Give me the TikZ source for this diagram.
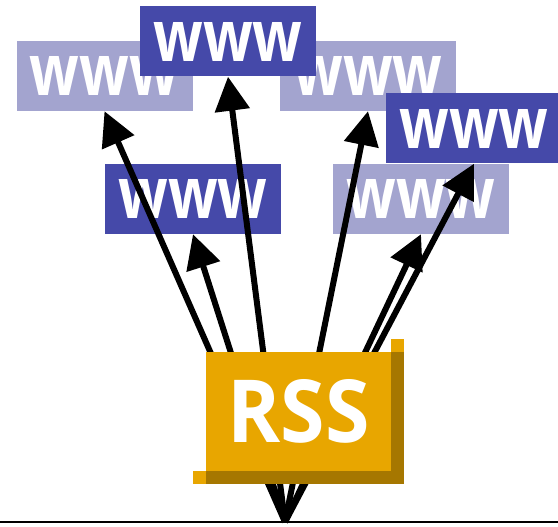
\documentclass[tikz,border=0pt]{standalone}
\usepackage{fontspec}
\setmainfont{Open Sans}
\usepackage{graphicx}
\usetikzlibrary{arrows.meta}
\definecolor{darkblue}{HTML}{4549A9}
\definecolor{lightblue}{HTML}{A3A4CF}
\definecolor{rssorange}{HTML}{E8A600}
\definecolor{rssshadow}{HTML}{A67700}
\tikzset{
  wbox/.style={minimum width=176pt, minimum height=70pt, inner sep=0pt, text=white, font=\bfseries},
  darkw/.style={wbox, fill=darkblue},
  lightw/.style={wbox, fill=lightblue},
  feed/.style={line width=6pt, -{Triangle[length=34pt,width=34pt]}},
  shadowbox/.style={fill=rssshadow, minimum width=198pt, minimum height=132pt, inner sep=0pt},
  rssbox/.style={fill=rssorange, minimum width=185pt, minimum height=119pt, inner sep=0pt, text=white, font=\bfseries},
  sq/.style={fill=rssorange, minimum width=13pt, minimum height=13pt, inner sep=0pt},
  baseline/.style={line width=2pt}
}
\newcommand{\www}{\resizebox{149pt}{39pt}{www}}
\begin{document}
\begin{tikzpicture}[x=1pt, y=-1pt]
\clip (0,0) rectangle (558,527);
% light boxes
\node[lightw] (lightL) at (104.5,76) {\www};
\node[lightw] (lightR) at (368,76) {\www};
\node[lightw] (lightRB) at (421,199) {\www};
% dark boxes
\node[darkw] (darkT) at (228,41.5) {\www};
\node[darkw] (darkM) at (193,199) {\www};
\node[darkw] (darkR) at (474,128.5) {\www};
% base line
\coordinate (origin) at (285,522);
\coordinate (lineL) at (0,522);
\coordinate (lineR) at (558,522);
\draw[baseline] (lineL) -- (lineR);
% arrows
\draw[feed] (origin) -- (lightL.south);
\draw[feed] (origin) -- (darkT.south);
\draw[feed] (origin) -- (darkM.south);
\draw[feed] (origin) -- (lightR.south);
\draw[feed] (origin) -- (darkR.south);
\draw[feed] (origin) -- (lightRB.south);
% RSS box
\node[shadowbox] (rssshadow) at (305,418) {};
\node[rssbox, anchor=north west] (rss) at (rssshadow.north west) {\resizebox{142pt}{63pt}{RSS}};
\node[sq, anchor=south west] (sqTR) at (rss.north east) {};
\node[sq, anchor=north east] (sqBL) at (rss.south west) {};
\end{tikzpicture}
\end{document}
